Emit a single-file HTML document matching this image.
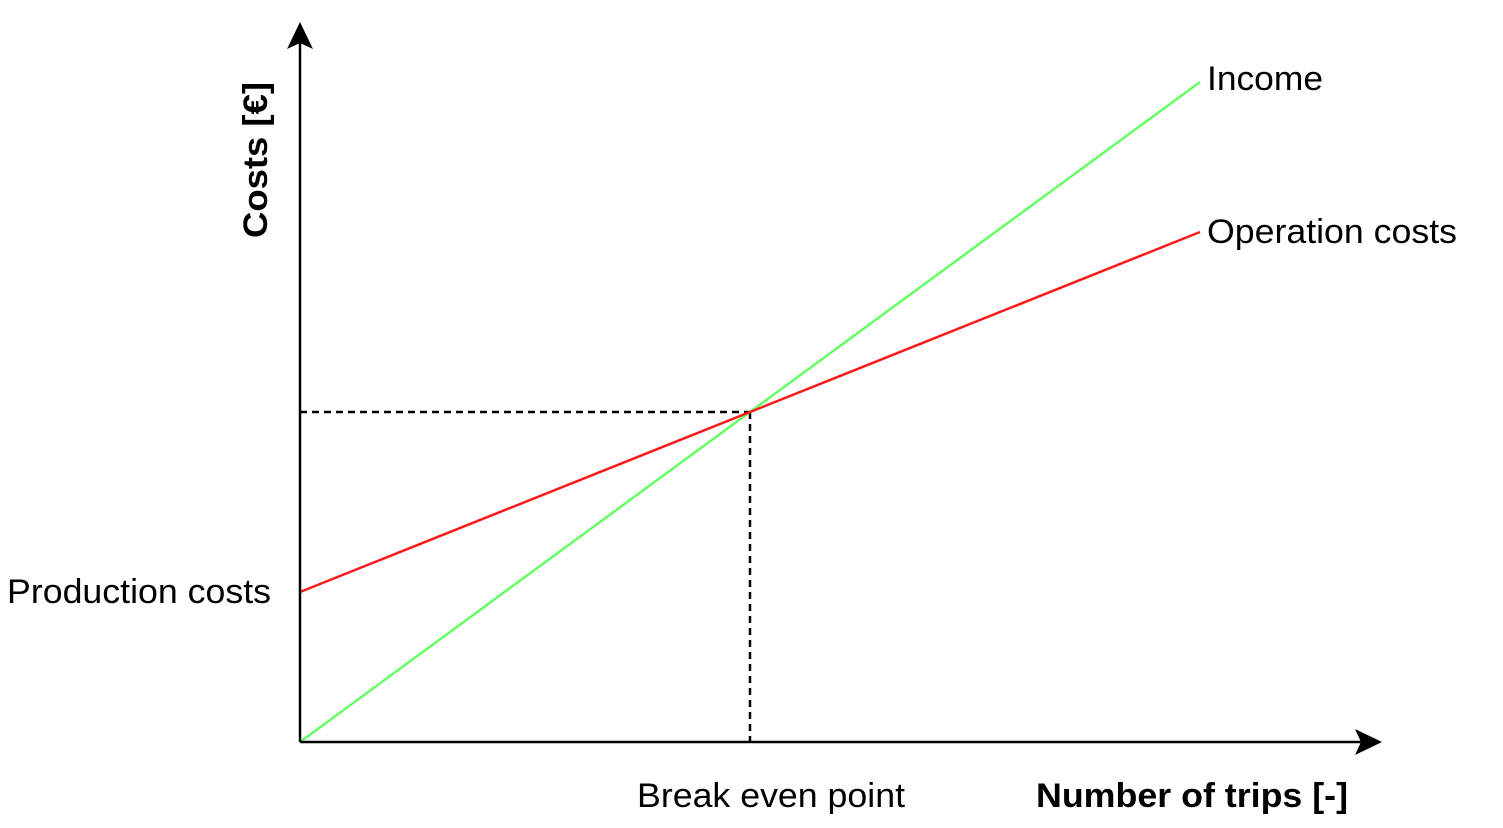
<!DOCTYPE html>
<html><head><meta charset="utf-8"><style>
html,body{margin:0;padding:0;background:#fff;width:1503px;height:828px;overflow:hidden}
text{font-family:"Liberation Sans",Arial,sans-serif;fill:#000}
</style></head><body>
<svg id="chart" width="1503" height="828" viewBox="0 0 1503 828">
<g id="marks"></g>
<path d="M300,742 V40" stroke="#000" stroke-width="2.5" fill="none"/>
<path d="M300,22 L313,49 L300,43 L287,49 Z" fill="#000"/>
<path d="M300,742 H1365" stroke="#000" stroke-width="2.5" fill="none"/>
<path d="M1382,742 L1355,729 L1361,742 L1355,755 Z" fill="#000"/>
<text transform="translate(267,160) rotate(-90)" text-anchor="middle" font-size="34" font-weight="bold" textLength="156" lengthAdjust="spacingAndGlyphs">Costs [€]</text>
<text x="1036" y="807" font-size="34" font-weight="bold" textLength="312" lengthAdjust="spacingAndGlyphs">Number of trips [-]</text>
<text x="1207" y="90" font-size="34" textLength="116" lengthAdjust="spacingAndGlyphs">Income</text>
<text x="1207" y="243" font-size="34" textLength="250" lengthAdjust="spacingAndGlyphs">Operation costs</text>
<text x="7" y="603" font-size="34" textLength="264" lengthAdjust="spacingAndGlyphs">Production costs</text>
<text x="637" y="807" font-size="34" textLength="268" lengthAdjust="spacingAndGlyphs">Break even point</text>
</svg>
<script>
const trips = [0, 900];
const income = [0, 660];
const operationCosts = [150, 510];
const breakEven = [450, 330];

const ox = 300, oy = 742;
const sx = v => ox + v * 1.0;
const sy = v => oy - v * 1.0;
const NS = 'http://www.w3.org/2000/svg';
const g = document.getElementById('marks');

function line(x1,y1,x2,y2,color,dash){
  const l = document.createElementNS(NS,'line');
  l.setAttribute('x1',x1);l.setAttribute('y1',y1);l.setAttribute('x2',x2);l.setAttribute('y2',y2);
  l.setAttribute('stroke',color);l.setAttribute('stroke-width',2.5);
  if(dash) l.setAttribute('stroke-dasharray',dash);
  g.appendChild(l);
  return l;
}
const d1 = line(sx(0), sy(breakEven[1]), sx(breakEven[0]), sy(breakEven[1]), '#000', '7,5');


const d2 = line(sx(breakEven[0]), sy(breakEven[1]), sx(breakEven[0]), sy(0), '#000', '7,5');


const inc = line(sx(trips[0]), sy(income[0]), sx(trips[1]), sy(income[1]), '#66ff66');


const op = line(sx(trips[0]), sy(operationCosts[0]), sx(trips[1]), sy(operationCosts[1]), '#ff1a1a');


</script>
</body></html>
